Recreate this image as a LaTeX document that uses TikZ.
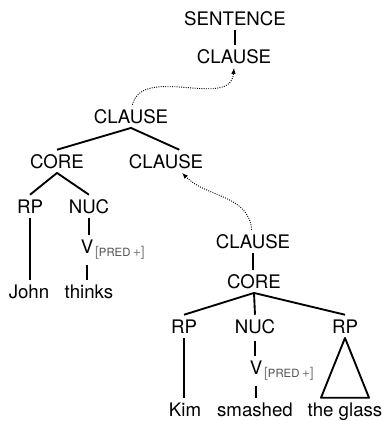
\documentclass[tikz,border=0pt]{standalone}
\usepackage{fontspec}
\setmainfont{TeX Gyre Heros}
\usetikzlibrary{arrows.meta}
\definecolor{featgray}{HTML}{808080}
\definecolor{featdark}{HTML}{505050}

\begin{document}
\begin{tikzpicture}[
  x=0.75pt,
  y=-0.75pt,
  line join=round,
  cat/.style={font=\fontsize{14}{16}\selectfont,anchor=base,inner xsep=1pt,inner ysep=3.5pt,text height=10pt,text depth=0pt},
  feat/.style={font=\fontsize{10.5}{12}\selectfont,text=featgray,anchor=base west,inner sep=0pt},
  branch/.style={draw=black,line width=1.4pt},
  move/.style={draw=black,line width=0.7pt,densely dotted,-{Latex[length=4.5pt,width=3.5pt]}}
]
  \useasboundingbox (0,0) rectangle (384,421);

  % Matrix clause.
  \node[cat] (sentence) at (235,25) {SENTENCE};
  \node[cat] (clTop) at (234,63) {CLAUSE};
  \node[cat] (clMain) at (131,123) {CLAUSE};
  \node[cat] (coreMain) at (57,168) {CORE};
  \node[cat] (clComp) at (166,168) {CLAUSE};
  \node[cat] (rpJohn) at (30,213) {RP};
  \node[cat] (nucMain) at (89,213) {NUC};
  \node[cat] (vMain) at (87,253) {V};
  \node[feat] (predMain) at ([yshift=-2.5pt]vMain.base east) {[{\fontsize{8.5}{10}\selectfont\color{featdark}PRED}\,+]};
  \node[cat] (john) at (29,298) {John};
  \node[cat] (thinks) at (89,298) {thinks};

  % Embedded clause.
  \node[cat] (clSub) at (253,248) {CLAUSE};
  \node[cat] (coreSub) at (254,288) {CORE};
  \node[cat] (rpKim) at (184,333) {RP};
  \node[cat] (nucSub) at (255,333) {NUC};
  \node[cat] (rpGlass) at (345,333) {RP};
  \node[cat] (vSub) at (256,374) {V};
  \node[feat] (predSub) at ([yshift=-2.5pt]vSub.base east) {[{\fontsize{8.5}{10}\selectfont\color{featdark}PRED}\,+]};
  \node[cat] (kim) at (185,416) {Kim};
  \node[cat] (smashed) at (255,416) {smashed};
  \node[cat] (glass) at (345,416) {the glass};

  % Branches.
  \draw[branch] (sentence.south) -- (sentence.south |- clTop.north);
  \draw[branch] (coreMain.north) -- (clMain.south) -- ([xshift=10pt]clComp.north);
  \draw[branch] (rpJohn.north) -- (coreMain.south) -- (nucMain.north);
  \draw[branch] (rpJohn.south) -- (rpJohn.south |- john.north);
  \draw[branch] (nucMain.south) -- (nucMain.south |- vMain.north);
  \draw[branch,shorten <=5pt] (vMain.south) -- (vMain.south |- thinks.north);

  \draw[branch] (clSub.south) -- (clSub.south |- coreSub.north);
  \foreach \d in {rpKim,nucSub,rpGlass} {
    \draw[branch] (coreSub.south) -- (\d.north);
  }
  \draw[branch] (rpKim.south) -- (rpKim.south |- kim.north);
  \draw[branch,shorten <=2pt] (nucSub.south) -- (nucSub.south |- vSub.north);
  \draw[branch,shorten <=5pt] (vSub.south) -- (vSub.south |- smashed.north);
  \draw[branch] (rpGlass.south) -- ([xshift=-18pt]glass.north) -- ([xshift=18pt]glass.north) -- cycle;

  % Raising arrows.
  \draw[move] ([xshift=1pt]clMain.north) to[out=75,in=-95] (clTop.south);
  \draw[move] ([xshift=-1pt]clSub.north) to[out=95,in=-45] ([xshift=12pt]clComp.south);
\end{tikzpicture}
\end{document}
